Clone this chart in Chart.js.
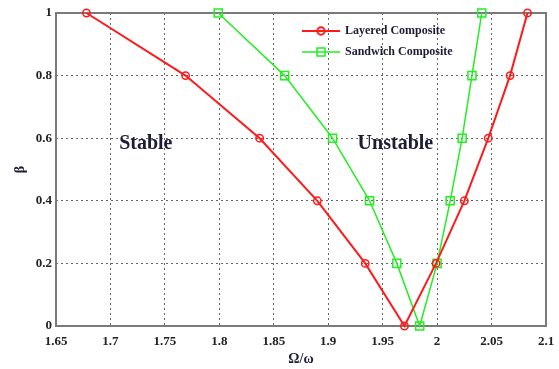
<!DOCTYPE html>
<html>
<head>
<meta charset="utf-8">
<script src="https://cdn.jsdelivr.net/npm/chart.js@4/dist/chart.umd.min.js"></script>
<style>
  html, body { margin: 0; padding: 0; background: #fff; }
  #wrap { width: 559px; height: 369px; }
</style>
</head>
<body>
<div id="wrap"><canvas id="chart" width="559" height="369"></canvas></div>
<script>
// beta values visited by both curves (down then back up)
const beta = [1, 0.8, 0.6, 0.4, 0.2, 0, 0.2, 0.4, 0.6, 0.8, 1];
const layeredX = [1.678, 1.769, 1.837, 1.890, 1.934, 1.970, 1.999, 2.025, 2.047, 2.067, 2.083];
const sandwichX = [1.799, 1.860, 1.904, 1.938, 1.963, 1.984, 2.000, 2.012, 2.023, 2.032, 2.041];
const seriesNames = ["Layered Composite", "Sandwich Composite"];
const regionLabels = [
    { text: "Stable", x: 1.708, y: 0.565 },
    { text: "Unstable", x: 1.927, y: 0.565 }
];

const RED = "#ff1a1a";
const GREEN = "#22ee22";
const serif = "'Liberation Serif', 'DejaVu Serif', serif";

function pts(xs) {
    return xs.map((x, i) => ({ x: x, y: beta[i] }));
}
function fmt(v) {
    return String(+Number(v).toFixed(2));
}

const decor = {
    id: "decor",
    beforeDatasetsDraw(chart) {
        const ctx = chart.ctx;
        const a = chart.chartArea;
        ctx.save();
        ctx.strokeStyle = "#7a7a7a";
        ctx.lineWidth = 2;
        ctx.strokeRect(a.left, a.top, a.right - a.left, a.bottom - a.top);
        ctx.restore();
    },
    afterDraw(chart) {
        const ctx = chart.ctx;
        const xs = chart.scales.x, ys = chart.scales.y;
        ctx.save();
        ctx.fillStyle = "#1c1c34";
        ctx.font = "bold 20px " + serif;
        ctx.textAlign = "left";
        ctx.textBaseline = "alphabetic";
        regionLabels.forEach(l => {
            ctx.fillText(l.text, xs.getPixelForValue(l.x), ys.getPixelForValue(l.y));
        });

        // legend
        const colors = [RED, GREEN];
        ctx.font = "bold 12px " + serif;
        ctx.textBaseline = "middle";
        seriesNames.forEach((name, i) => {
            const y = 31 + i * 21;
            ctx.strokeStyle = colors[i];
            ctx.lineWidth = i === 0 ? 2 : 1.5;
            ctx.beginPath();
            ctx.moveTo(302, y);
            ctx.lineTo(340, y);
            ctx.stroke();
            ctx.beginPath();
            if (i === 0) ctx.arc(321, y, 3.7, 0, Math.PI * 2);
            else ctx.rect(317, y - 4, 8, 8);
            ctx.stroke();
            ctx.fillStyle = "#1c1c34";
            ctx.fillText(name, 345, y);
        });
        ctx.restore();
    }
};

new Chart(document.getElementById("chart"), {
    type: "line",
    data: {
        datasets: [
            {
                label: seriesNames[0],
                data: pts(layeredX),
                borderColor: RED,
                borderWidth: 2,
                pointStyle: "circle",
                pointRadius: 3.7,
                pointBorderWidth: 1.5,
                pointBorderColor: RED,
                pointBackgroundColor: "rgba(0,0,0,0)",
                tension: 0,
                clip: false
            },
            {
                label: seriesNames[1],
                data: pts(sandwichX),
                borderColor: GREEN,
                borderWidth: 1.5,
                pointStyle: "rect",
                pointRadius: 5.7,
                pointBorderWidth: 1.5,
                pointBorderColor: GREEN,
                pointBackgroundColor: "rgba(0,0,0,0)",
                tension: 0,
                clip: false
            }
        ]
    },
    options: {
        responsive: false,
        animation: false,
        events: [],
        layout: { padding: { left: 0, right: 13, top: 13, bottom: 0 } },
        plugins: { legend: { display: false }, tooltip: { enabled: false } },
        scales: {
            x: {
                type: "linear",
                min: 1.65,
                max: 2.1,
                afterFit: s => {
                    s.height = 43;
                    s.paddingLeft = 0;
                    s.paddingRight = 0;
                },
                ticks: {
                    stepSize: 0.05,
                    callback: fmt,
                    color: "#222",
                    padding: 8,
                    maxRotation: 0,
                    autoSkip: false,
                    font: { family: serif, size: 13, weight: "bold" }
                },
                grid: { color: "#666", drawTicks: false },
                border: { display: false, dash: [2, 3] },
                title: {
                    display: true,
                    text: "Ω/ω",
                    color: "#1c1c34",
                    padding: { top: 0, bottom: 1 },
                    font: { family: serif, size: 14, weight: "bold" }
                }
            },
            y: {
                type: "linear",
                min: 0,
                max: 1,
                afterFit: s => {
                    s.width = 56;
                    s.paddingTop = 0;
                    s.paddingBottom = 0;
                },
                ticks: {
                    stepSize: 0.2,
                    callback: fmt,
                    color: "#222",
                    padding: 4,
                    font: { family: serif, size: 13, weight: "bold" }
                },
                grid: { color: "#666", drawTicks: false },
                border: { display: false, dash: [2, 3] },
                title: {
                    display: true,
                    text: "β",
                    color: "#1c1c34",
                    padding: { top: 12, bottom: 0 },
                    font: { family: serif, size: 14, weight: "bold" }
                }
            }
        }
    },
    plugins: [decor]
});
</script>
</body>
</html>
